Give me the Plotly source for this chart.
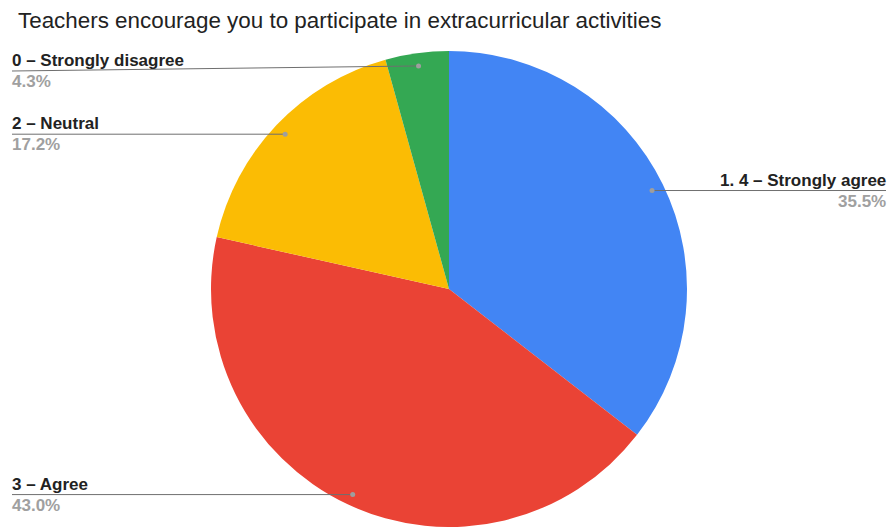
import math
import plotly.graph_objects as go

categories = ["1. 4 – Strongly agree", "3 – Agree", "2 – Neutral", "0 – Strongly disagree"]
values = [35.5, 43.0, 17.2, 4.3]
colors = ["#4285F4", "#EA4335", "#FBBC04", "#34A853"]
title_text = "Teachers encourage you to participate in extracurricular activities"

W, H = 889, 527
CX, CY, R = 449, 290, 238  # pixel geometry of pie (from top-left)
DOT_F = 0.95
LEFT_X, RIGHT_X = 12, 886
TOP_MIN = 71
LABEL_FONT = "Liberation Sans, Arial"

fig = go.Figure(go.Pie(
    labels=categories, values=values, sort=False, direction="clockwise", rotation=0,
    marker=dict(colors=colors, line=dict(width=0)),
    textinfo="none", hoverinfo="label+percent", showlegend=False,
    domain=dict(x=[(CX - R) / W, (CX + R) / W], y=[0, 2 * R / H]),
))

def px(x):
    return x / W

def py(y):
    return 1 - y / H

shapes, annotations = [], []
total = sum(values)
cum = 0.0
for lab, v in zip(categories, values):
    mid = (cum + v / 2) / total * 2 * math.pi
    cum += v
    dx = CX + DOT_F * R * math.sin(mid)
    dy = CY - DOT_F * R * math.cos(mid)
    right = math.sin(mid) > 0
    ly = max(dy, TOP_MIN)
    lx = RIGHT_X if right else LEFT_X
    shapes.append(dict(type="line", xref="paper", yref="paper",
                       x0=px(lx), y0=py(ly), x1=px(dx), y1=py(dy),
                       line=dict(color="#6f6f6f", width=1)))
    shapes.append(dict(type="circle", xref="paper", yref="paper",
                       x0=px(dx - 2.5), x1=px(dx + 2.5), y0=py(dy - 2.5), y1=py(dy + 2.5),
                       fillcolor="#9e9e9e", line=dict(width=0)))
    anchor = "right" if right else "left"
    annotations.append(dict(text=f"<b>{lab}</b>", x=px(lx), y=py(ly), xref="paper", yref="paper",
                            xanchor=anchor, yanchor="bottom", showarrow=False, yshift=0,
                            borderpad=0, xshift=(1 if right else -1),
                            font=dict(family=LABEL_FONT, size=17, color="#222222")))
    annotations.append(dict(text=f"<b>{v:.1f}%</b>", x=px(lx), y=py(ly), xref="paper", yref="paper",
                            xanchor=anchor, yanchor="top", showarrow=False, yshift=0,
                            borderpad=0, xshift=(1 if right else -1),
                            font=dict(family=LABEL_FONT, size=17, color="#a0a0a0")))

annotations.append(dict(text=title_text, x=px(17), y=py(7), xref="paper", yref="paper",
                        xanchor="left", yanchor="top", showarrow=False, borderpad=0,
                        font=dict(family="Liberation Sans, Arial", size=22.4, color="#222222")))

fig.update_layout(width=W, height=H, margin=dict(l=0, r=0, t=0, b=0),
                  paper_bgcolor="white", plot_bgcolor="white",
                  shapes=shapes, annotations=annotations)
fig.write_html("out.html", config={"displayModeBar": False})

with open("out.html", encoding="utf-8") as f:
    html = f.read()
html = html.replace("<head>", "<head><style>html,body{margin:0;padding:0;overflow:hidden;}</style>", 1)
with open("out.html", "w", encoding="utf-8") as f:
    f.write(html)
